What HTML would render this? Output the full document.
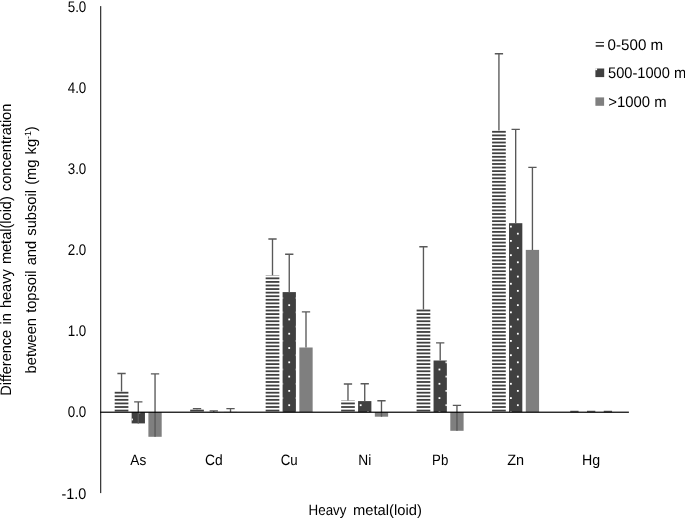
<!DOCTYPE html>
<html lang="en"><head><meta charset="utf-8"><title>Heavy metal(loid) chart</title>
<style>html,body{margin:0;padding:0;background:#fff;overflow:hidden}body{width:685px;height:518px}</style></head>
<body>
<svg width="685" height="518" viewBox="0 0 685 518" style="display:block;will-change:transform">
<rect width="685" height="518" fill="#fff"/>
<g shape-rendering="auto">
<rect x="114.69" y="391.81" width="13.70" height="1.80" fill="#404040"/>
<rect x="114.69" y="395.38" width="13.70" height="1.80" fill="#404040"/>
<rect x="114.69" y="398.95" width="13.70" height="1.80" fill="#404040"/>
<rect x="114.69" y="402.53" width="13.70" height="1.80" fill="#404040"/>
<rect x="114.69" y="406.10" width="13.70" height="1.80" fill="#404040"/>
<rect x="114.69" y="409.68" width="13.70" height="1.80" fill="#404040"/>
<rect x="131.64" y="412.15" width="13.30" height="11.25" fill="#404040"/>
<rect x="138.46" y="412.15" width="1.80" height="1.12" fill="#fff"/>
<rect x="131.64" y="418.57" width="1.28" height="1.80" fill="#fff"/>
<rect x="148.39" y="412.15" width="13.30" height="24.65" fill="#7f7f7f"/>
<rect x="190.17" y="409.68" width="13.70" height="1.80" fill="#404040"/>
<rect x="207.12" y="412.00" width="13.30" height="0.15" fill="#404040"/>
<rect x="209.91" y="412.00" width="1.80" height="0.15" fill="#fff"/>
<rect x="223.87" y="411.90" width="13.30" height="0.25" fill="#7f7f7f"/>
<rect x="265.65" y="275.30" width="13.70" height="0.36" fill="#404040"/>
<rect x="265.65" y="277.44" width="13.70" height="1.80" fill="#404040"/>
<rect x="265.65" y="281.01" width="13.70" height="1.80" fill="#404040"/>
<rect x="265.65" y="284.59" width="13.70" height="1.80" fill="#404040"/>
<rect x="265.65" y="288.16" width="13.70" height="1.80" fill="#404040"/>
<rect x="265.65" y="291.73" width="13.70" height="1.80" fill="#404040"/>
<rect x="265.65" y="295.31" width="13.70" height="1.80" fill="#404040"/>
<rect x="265.65" y="298.88" width="13.70" height="1.80" fill="#404040"/>
<rect x="265.65" y="302.46" width="13.70" height="1.80" fill="#404040"/>
<rect x="265.65" y="306.03" width="13.70" height="1.80" fill="#404040"/>
<rect x="265.65" y="309.60" width="13.70" height="1.80" fill="#404040"/>
<rect x="265.65" y="313.18" width="13.70" height="1.80" fill="#404040"/>
<rect x="265.65" y="316.75" width="13.70" height="1.80" fill="#404040"/>
<rect x="265.65" y="320.33" width="13.70" height="1.80" fill="#404040"/>
<rect x="265.65" y="323.90" width="13.70" height="1.80" fill="#404040"/>
<rect x="265.65" y="327.47" width="13.70" height="1.80" fill="#404040"/>
<rect x="265.65" y="331.05" width="13.70" height="1.80" fill="#404040"/>
<rect x="265.65" y="334.62" width="13.70" height="1.80" fill="#404040"/>
<rect x="265.65" y="338.20" width="13.70" height="1.80" fill="#404040"/>
<rect x="265.65" y="341.77" width="13.70" height="1.80" fill="#404040"/>
<rect x="265.65" y="345.34" width="13.70" height="1.80" fill="#404040"/>
<rect x="265.65" y="348.92" width="13.70" height="1.80" fill="#404040"/>
<rect x="265.65" y="352.49" width="13.70" height="1.80" fill="#404040"/>
<rect x="265.65" y="356.07" width="13.70" height="1.80" fill="#404040"/>
<rect x="265.65" y="359.64" width="13.70" height="1.80" fill="#404040"/>
<rect x="265.65" y="363.21" width="13.70" height="1.80" fill="#404040"/>
<rect x="265.65" y="366.79" width="13.70" height="1.80" fill="#404040"/>
<rect x="265.65" y="370.36" width="13.70" height="1.80" fill="#404040"/>
<rect x="265.65" y="373.94" width="13.70" height="1.80" fill="#404040"/>
<rect x="265.65" y="377.51" width="13.70" height="1.80" fill="#404040"/>
<rect x="265.65" y="381.08" width="13.70" height="1.80" fill="#404040"/>
<rect x="265.65" y="384.66" width="13.70" height="1.80" fill="#404040"/>
<rect x="265.65" y="388.23" width="13.70" height="1.80" fill="#404040"/>
<rect x="265.65" y="391.81" width="13.70" height="1.80" fill="#404040"/>
<rect x="265.65" y="395.38" width="13.70" height="1.80" fill="#404040"/>
<rect x="265.65" y="398.95" width="13.70" height="1.80" fill="#404040"/>
<rect x="265.65" y="402.53" width="13.70" height="1.80" fill="#404040"/>
<rect x="265.65" y="406.10" width="13.70" height="1.80" fill="#404040"/>
<rect x="265.65" y="409.68" width="13.70" height="1.80" fill="#404040"/>
<rect x="282.60" y="292.10" width="13.30" height="120.05" fill="#404040"/>
<rect x="282.60" y="297.15" width="0.56" height="1.80" fill="#fff"/>
<rect x="282.60" y="311.44" width="0.56" height="1.80" fill="#fff"/>
<rect x="282.60" y="325.73" width="0.56" height="1.80" fill="#fff"/>
<rect x="282.60" y="340.02" width="0.56" height="1.80" fill="#fff"/>
<rect x="282.60" y="354.31" width="0.56" height="1.80" fill="#fff"/>
<rect x="282.60" y="368.60" width="0.56" height="1.80" fill="#fff"/>
<rect x="282.60" y="382.89" width="0.56" height="1.80" fill="#fff"/>
<rect x="282.60" y="397.18" width="0.56" height="1.80" fill="#fff"/>
<rect x="282.60" y="411.47" width="0.56" height="0.68" fill="#fff"/>
<rect x="295.65" y="297.15" width="0.25" height="1.80" fill="#fff"/>
<rect x="295.65" y="311.44" width="0.25" height="1.80" fill="#fff"/>
<rect x="295.65" y="325.73" width="0.25" height="1.80" fill="#fff"/>
<rect x="295.65" y="340.02" width="0.25" height="1.80" fill="#fff"/>
<rect x="295.65" y="354.31" width="0.25" height="1.80" fill="#fff"/>
<rect x="295.65" y="368.60" width="0.25" height="1.80" fill="#fff"/>
<rect x="295.65" y="382.89" width="0.25" height="1.80" fill="#fff"/>
<rect x="295.65" y="397.18" width="0.25" height="1.80" fill="#fff"/>
<rect x="295.65" y="411.47" width="0.25" height="0.68" fill="#fff"/>
<rect x="288.31" y="304.25" width="1.80" height="1.80" fill="#fff"/>
<rect x="288.31" y="318.54" width="1.80" height="1.80" fill="#fff"/>
<rect x="288.31" y="332.83" width="1.80" height="1.80" fill="#fff"/>
<rect x="288.31" y="347.12" width="1.80" height="1.80" fill="#fff"/>
<rect x="288.31" y="361.41" width="1.80" height="1.80" fill="#fff"/>
<rect x="288.31" y="375.70" width="1.80" height="1.80" fill="#fff"/>
<rect x="288.31" y="389.99" width="1.80" height="1.80" fill="#fff"/>
<rect x="288.31" y="404.28" width="1.80" height="1.80" fill="#fff"/>
<rect x="299.35" y="347.50" width="13.30" height="64.65" fill="#7f7f7f"/>
<rect x="341.13" y="400.40" width="13.70" height="0.35" fill="#404040"/>
<rect x="341.13" y="402.53" width="13.70" height="1.80" fill="#404040"/>
<rect x="341.13" y="406.10" width="13.70" height="1.80" fill="#404040"/>
<rect x="341.13" y="409.68" width="13.70" height="1.80" fill="#404040"/>
<rect x="358.08" y="401.10" width="13.30" height="11.05" fill="#404040"/>
<rect x="367.10" y="411.47" width="1.80" height="0.68" fill="#fff"/>
<rect x="359.76" y="404.28" width="1.80" height="1.80" fill="#fff"/>
<rect x="374.83" y="412.15" width="13.30" height="4.55" fill="#7f7f7f"/>
<rect x="416.60" y="309.60" width="13.70" height="1.80" fill="#404040"/>
<rect x="416.60" y="313.18" width="13.70" height="1.80" fill="#404040"/>
<rect x="416.60" y="316.75" width="13.70" height="1.80" fill="#404040"/>
<rect x="416.60" y="320.33" width="13.70" height="1.80" fill="#404040"/>
<rect x="416.60" y="323.90" width="13.70" height="1.80" fill="#404040"/>
<rect x="416.60" y="327.47" width="13.70" height="1.80" fill="#404040"/>
<rect x="416.60" y="331.05" width="13.70" height="1.80" fill="#404040"/>
<rect x="416.60" y="334.62" width="13.70" height="1.80" fill="#404040"/>
<rect x="416.60" y="338.20" width="13.70" height="1.80" fill="#404040"/>
<rect x="416.60" y="341.77" width="13.70" height="1.80" fill="#404040"/>
<rect x="416.60" y="345.34" width="13.70" height="1.80" fill="#404040"/>
<rect x="416.60" y="348.92" width="13.70" height="1.80" fill="#404040"/>
<rect x="416.60" y="352.49" width="13.70" height="1.80" fill="#404040"/>
<rect x="416.60" y="356.07" width="13.70" height="1.80" fill="#404040"/>
<rect x="416.60" y="359.64" width="13.70" height="1.80" fill="#404040"/>
<rect x="416.60" y="363.21" width="13.70" height="1.80" fill="#404040"/>
<rect x="416.60" y="366.79" width="13.70" height="1.80" fill="#404040"/>
<rect x="416.60" y="370.36" width="13.70" height="1.80" fill="#404040"/>
<rect x="416.60" y="373.94" width="13.70" height="1.80" fill="#404040"/>
<rect x="416.60" y="377.51" width="13.70" height="1.80" fill="#404040"/>
<rect x="416.60" y="381.08" width="13.70" height="1.80" fill="#404040"/>
<rect x="416.60" y="384.66" width="13.70" height="1.80" fill="#404040"/>
<rect x="416.60" y="388.23" width="13.70" height="1.80" fill="#404040"/>
<rect x="416.60" y="391.81" width="13.70" height="1.80" fill="#404040"/>
<rect x="416.60" y="395.38" width="13.70" height="1.80" fill="#404040"/>
<rect x="416.60" y="398.95" width="13.70" height="1.80" fill="#404040"/>
<rect x="416.60" y="402.53" width="13.70" height="1.80" fill="#404040"/>
<rect x="416.60" y="406.10" width="13.70" height="1.80" fill="#404040"/>
<rect x="416.60" y="409.68" width="13.70" height="1.80" fill="#404040"/>
<rect x="433.55" y="360.50" width="13.30" height="51.65" fill="#404040"/>
<rect x="438.55" y="368.60" width="1.80" height="1.80" fill="#fff"/>
<rect x="438.55" y="382.89" width="1.80" height="1.80" fill="#fff"/>
<rect x="438.55" y="397.18" width="1.80" height="1.80" fill="#fff"/>
<rect x="438.55" y="411.47" width="1.80" height="0.68" fill="#fff"/>
<rect x="445.50" y="361.41" width="1.35" height="1.80" fill="#fff"/>
<rect x="445.50" y="375.70" width="1.35" height="1.80" fill="#fff"/>
<rect x="445.50" y="389.99" width="1.35" height="1.80" fill="#fff"/>
<rect x="445.50" y="404.28" width="1.35" height="1.80" fill="#fff"/>
<rect x="450.30" y="412.15" width="13.30" height="18.65" fill="#7f7f7f"/>
<rect x="492.08" y="130.90" width="13.70" height="1.80" fill="#404040"/>
<rect x="492.08" y="134.48" width="13.70" height="1.80" fill="#404040"/>
<rect x="492.08" y="138.05" width="13.70" height="1.80" fill="#404040"/>
<rect x="492.08" y="141.63" width="13.70" height="1.80" fill="#404040"/>
<rect x="492.08" y="145.20" width="13.70" height="1.80" fill="#404040"/>
<rect x="492.08" y="148.77" width="13.70" height="1.80" fill="#404040"/>
<rect x="492.08" y="152.35" width="13.70" height="1.80" fill="#404040"/>
<rect x="492.08" y="155.92" width="13.70" height="1.80" fill="#404040"/>
<rect x="492.08" y="159.50" width="13.70" height="1.80" fill="#404040"/>
<rect x="492.08" y="163.07" width="13.70" height="1.80" fill="#404040"/>
<rect x="492.08" y="166.64" width="13.70" height="1.80" fill="#404040"/>
<rect x="492.08" y="170.22" width="13.70" height="1.80" fill="#404040"/>
<rect x="492.08" y="173.79" width="13.70" height="1.80" fill="#404040"/>
<rect x="492.08" y="177.37" width="13.70" height="1.80" fill="#404040"/>
<rect x="492.08" y="180.94" width="13.70" height="1.80" fill="#404040"/>
<rect x="492.08" y="184.51" width="13.70" height="1.80" fill="#404040"/>
<rect x="492.08" y="188.09" width="13.70" height="1.80" fill="#404040"/>
<rect x="492.08" y="191.66" width="13.70" height="1.80" fill="#404040"/>
<rect x="492.08" y="195.24" width="13.70" height="1.80" fill="#404040"/>
<rect x="492.08" y="198.81" width="13.70" height="1.80" fill="#404040"/>
<rect x="492.08" y="202.38" width="13.70" height="1.80" fill="#404040"/>
<rect x="492.08" y="205.96" width="13.70" height="1.80" fill="#404040"/>
<rect x="492.08" y="209.53" width="13.70" height="1.80" fill="#404040"/>
<rect x="492.08" y="213.11" width="13.70" height="1.80" fill="#404040"/>
<rect x="492.08" y="216.68" width="13.70" height="1.80" fill="#404040"/>
<rect x="492.08" y="220.25" width="13.70" height="1.80" fill="#404040"/>
<rect x="492.08" y="223.83" width="13.70" height="1.80" fill="#404040"/>
<rect x="492.08" y="227.40" width="13.70" height="1.80" fill="#404040"/>
<rect x="492.08" y="230.98" width="13.70" height="1.80" fill="#404040"/>
<rect x="492.08" y="234.55" width="13.70" height="1.80" fill="#404040"/>
<rect x="492.08" y="238.12" width="13.70" height="1.80" fill="#404040"/>
<rect x="492.08" y="241.70" width="13.70" height="1.80" fill="#404040"/>
<rect x="492.08" y="245.27" width="13.70" height="1.80" fill="#404040"/>
<rect x="492.08" y="248.85" width="13.70" height="1.80" fill="#404040"/>
<rect x="492.08" y="252.42" width="13.70" height="1.80" fill="#404040"/>
<rect x="492.08" y="255.99" width="13.70" height="1.80" fill="#404040"/>
<rect x="492.08" y="259.57" width="13.70" height="1.80" fill="#404040"/>
<rect x="492.08" y="263.14" width="13.70" height="1.80" fill="#404040"/>
<rect x="492.08" y="266.72" width="13.70" height="1.80" fill="#404040"/>
<rect x="492.08" y="270.29" width="13.70" height="1.80" fill="#404040"/>
<rect x="492.08" y="273.86" width="13.70" height="1.80" fill="#404040"/>
<rect x="492.08" y="277.44" width="13.70" height="1.80" fill="#404040"/>
<rect x="492.08" y="281.01" width="13.70" height="1.80" fill="#404040"/>
<rect x="492.08" y="284.59" width="13.70" height="1.80" fill="#404040"/>
<rect x="492.08" y="288.16" width="13.70" height="1.80" fill="#404040"/>
<rect x="492.08" y="291.73" width="13.70" height="1.80" fill="#404040"/>
<rect x="492.08" y="295.31" width="13.70" height="1.80" fill="#404040"/>
<rect x="492.08" y="298.88" width="13.70" height="1.80" fill="#404040"/>
<rect x="492.08" y="302.46" width="13.70" height="1.80" fill="#404040"/>
<rect x="492.08" y="306.03" width="13.70" height="1.80" fill="#404040"/>
<rect x="492.08" y="309.60" width="13.70" height="1.80" fill="#404040"/>
<rect x="492.08" y="313.18" width="13.70" height="1.80" fill="#404040"/>
<rect x="492.08" y="316.75" width="13.70" height="1.80" fill="#404040"/>
<rect x="492.08" y="320.33" width="13.70" height="1.80" fill="#404040"/>
<rect x="492.08" y="323.90" width="13.70" height="1.80" fill="#404040"/>
<rect x="492.08" y="327.47" width="13.70" height="1.80" fill="#404040"/>
<rect x="492.08" y="331.05" width="13.70" height="1.80" fill="#404040"/>
<rect x="492.08" y="334.62" width="13.70" height="1.80" fill="#404040"/>
<rect x="492.08" y="338.20" width="13.70" height="1.80" fill="#404040"/>
<rect x="492.08" y="341.77" width="13.70" height="1.80" fill="#404040"/>
<rect x="492.08" y="345.34" width="13.70" height="1.80" fill="#404040"/>
<rect x="492.08" y="348.92" width="13.70" height="1.80" fill="#404040"/>
<rect x="492.08" y="352.49" width="13.70" height="1.80" fill="#404040"/>
<rect x="492.08" y="356.07" width="13.70" height="1.80" fill="#404040"/>
<rect x="492.08" y="359.64" width="13.70" height="1.80" fill="#404040"/>
<rect x="492.08" y="363.21" width="13.70" height="1.80" fill="#404040"/>
<rect x="492.08" y="366.79" width="13.70" height="1.80" fill="#404040"/>
<rect x="492.08" y="370.36" width="13.70" height="1.80" fill="#404040"/>
<rect x="492.08" y="373.94" width="13.70" height="1.80" fill="#404040"/>
<rect x="492.08" y="377.51" width="13.70" height="1.80" fill="#404040"/>
<rect x="492.08" y="381.08" width="13.70" height="1.80" fill="#404040"/>
<rect x="492.08" y="384.66" width="13.70" height="1.80" fill="#404040"/>
<rect x="492.08" y="388.23" width="13.70" height="1.80" fill="#404040"/>
<rect x="492.08" y="391.81" width="13.70" height="1.80" fill="#404040"/>
<rect x="492.08" y="395.38" width="13.70" height="1.80" fill="#404040"/>
<rect x="492.08" y="398.95" width="13.70" height="1.80" fill="#404040"/>
<rect x="492.08" y="402.53" width="13.70" height="1.80" fill="#404040"/>
<rect x="492.08" y="406.10" width="13.70" height="1.80" fill="#404040"/>
<rect x="492.08" y="409.68" width="13.70" height="1.80" fill="#404040"/>
<rect x="509.03" y="223.20" width="13.30" height="188.95" fill="#404040"/>
<rect x="510.00" y="225.70" width="1.80" height="1.80" fill="#fff"/>
<rect x="510.00" y="239.99" width="1.80" height="1.80" fill="#fff"/>
<rect x="510.00" y="254.28" width="1.80" height="1.80" fill="#fff"/>
<rect x="510.00" y="268.57" width="1.80" height="1.80" fill="#fff"/>
<rect x="510.00" y="282.86" width="1.80" height="1.80" fill="#fff"/>
<rect x="510.00" y="297.15" width="1.80" height="1.80" fill="#fff"/>
<rect x="510.00" y="311.44" width="1.80" height="1.80" fill="#fff"/>
<rect x="510.00" y="325.73" width="1.80" height="1.80" fill="#fff"/>
<rect x="510.00" y="340.02" width="1.80" height="1.80" fill="#fff"/>
<rect x="510.00" y="354.31" width="1.80" height="1.80" fill="#fff"/>
<rect x="510.00" y="368.60" width="1.80" height="1.80" fill="#fff"/>
<rect x="510.00" y="382.89" width="1.80" height="1.80" fill="#fff"/>
<rect x="510.00" y="397.18" width="1.80" height="1.80" fill="#fff"/>
<rect x="510.00" y="411.47" width="1.80" height="0.68" fill="#fff"/>
<rect x="516.95" y="232.80" width="1.80" height="1.80" fill="#fff"/>
<rect x="516.95" y="247.09" width="1.80" height="1.80" fill="#fff"/>
<rect x="516.95" y="261.38" width="1.80" height="1.80" fill="#fff"/>
<rect x="516.95" y="275.67" width="1.80" height="1.80" fill="#fff"/>
<rect x="516.95" y="289.96" width="1.80" height="1.80" fill="#fff"/>
<rect x="516.95" y="304.25" width="1.80" height="1.80" fill="#fff"/>
<rect x="516.95" y="318.54" width="1.80" height="1.80" fill="#fff"/>
<rect x="516.95" y="332.83" width="1.80" height="1.80" fill="#fff"/>
<rect x="516.95" y="347.12" width="1.80" height="1.80" fill="#fff"/>
<rect x="516.95" y="361.41" width="1.80" height="1.80" fill="#fff"/>
<rect x="516.95" y="375.70" width="1.80" height="1.80" fill="#fff"/>
<rect x="516.95" y="389.99" width="1.80" height="1.80" fill="#fff"/>
<rect x="516.95" y="404.28" width="1.80" height="1.80" fill="#fff"/>
<rect x="525.78" y="249.90" width="13.30" height="162.25" fill="#7f7f7f"/>
<rect x="584.51" y="412.00" width="13.30" height="0.15" fill="#404040"/>
<rect x="595.74" y="412.00" width="1.80" height="0.15" fill="#fff"/>
<rect x="601.26" y="412.00" width="13.30" height="0.15" fill="#7f7f7f"/>
<path d="M121.54 391.60V373.50M117.39 373.50H125.69" stroke="#595959" stroke-width="1.35" fill="none"/>
<path d="M138.29 423.40V401.80M134.14 401.80H142.44" stroke="#595959" stroke-width="1.35" fill="none"/>
<path d="M155.04 436.80V373.80M150.89 373.80H159.19" stroke="#595959" stroke-width="1.35" fill="none"/>
<path d="M197.02 409.60V408.60M192.87 408.60H201.17" stroke="#595959" stroke-width="1.35" fill="none"/>
<path d="M213.77 412.00V410.80M209.62 410.80H217.92" stroke="#595959" stroke-width="1.35" fill="none"/>
<path d="M230.52 411.90V408.60M226.37 408.60H234.67" stroke="#595959" stroke-width="1.35" fill="none"/>
<path d="M272.50 275.30V239.00M268.35 239.00H276.65" stroke="#595959" stroke-width="1.35" fill="none"/>
<path d="M289.25 292.10V254.20M285.10 254.20H293.40" stroke="#595959" stroke-width="1.35" fill="none"/>
<path d="M306.00 347.50V311.80M301.85 311.80H310.15" stroke="#595959" stroke-width="1.35" fill="none"/>
<path d="M347.98 400.40V384.00M343.83 384.00H352.12" stroke="#595959" stroke-width="1.35" fill="none"/>
<path d="M364.73 401.10V383.70M360.58 383.70H368.88" stroke="#595959" stroke-width="1.35" fill="none"/>
<path d="M381.48 416.70V400.70M377.33 400.70H385.62" stroke="#595959" stroke-width="1.35" fill="none"/>
<path d="M423.45 309.50V246.70M419.30 246.70H427.60" stroke="#595959" stroke-width="1.35" fill="none"/>
<path d="M440.20 360.50V342.90M436.05 342.90H444.35" stroke="#595959" stroke-width="1.35" fill="none"/>
<path d="M456.95 430.80V405.30M452.80 405.30H461.10" stroke="#595959" stroke-width="1.35" fill="none"/>
<path d="M498.93 130.40V53.70M494.78 53.70H503.08" stroke="#595959" stroke-width="1.35" fill="none"/>
<path d="M515.68 223.20V129.30M511.53 129.30H519.83" stroke="#595959" stroke-width="1.35" fill="none"/>
<path d="M532.43 249.90V167.40M528.28 167.40H536.58" stroke="#595959" stroke-width="1.35" fill="none"/>
<path d="M574.41 412.00V411.50M570.26 411.50H578.56" stroke="#595959" stroke-width="1.35" fill="none"/>
<path d="M591.16 412.00V411.40M587.01 411.40H595.31" stroke="#595959" stroke-width="1.35" fill="none"/>
<path d="M607.91 412.00V411.50M603.76 411.50H612.06" stroke="#595959" stroke-width="1.35" fill="none"/>
<rect x="100.1" y="6.10" width="1.15" height="487.00" fill="#262626"/>
<rect x="100.1" y="411.62" width="528.80" height="1.2" fill="#000"/>
</g>
<g font-family="Liberation Sans, Arial, sans-serif" text-rendering="geometricPrecision">
<text x="61.40" y="498.52" font-size="15.4" text-anchor="start" fill="#000" textLength="24.9" lengthAdjust="spacingAndGlyphs" >-1.0</text>
<text x="67.70" y="417.35" font-size="15.4" text-anchor="start" fill="#000" textLength="18.6" lengthAdjust="spacingAndGlyphs" >0.0</text>
<text x="67.70" y="336.18" font-size="15.4" text-anchor="start" fill="#000" textLength="18.6" lengthAdjust="spacingAndGlyphs" >1.0</text>
<text x="67.70" y="255.01" font-size="15.4" text-anchor="start" fill="#000" textLength="18.6" lengthAdjust="spacingAndGlyphs" >2.0</text>
<text x="67.70" y="173.84" font-size="15.4" text-anchor="start" fill="#000" textLength="18.6" lengthAdjust="spacingAndGlyphs" >3.0</text>
<text x="67.70" y="92.67" font-size="15.4" text-anchor="start" fill="#000" textLength="18.6" lengthAdjust="spacingAndGlyphs" >4.0</text>
<text x="67.70" y="11.50" font-size="15.4" text-anchor="start" fill="#000" textLength="18.6" lengthAdjust="spacingAndGlyphs" >5.0</text>
<text x="130.34" y="464.8" font-size="15" text-anchor="start" fill="#000" textLength="15.9" lengthAdjust="spacingAndGlyphs" >As</text>
<text x="204.92" y="464.8" font-size="15" text-anchor="start" fill="#000" textLength="17.7" lengthAdjust="spacingAndGlyphs" >Cd</text>
<text x="280.75" y="464.8" font-size="15" text-anchor="start" fill="#000" textLength="17.0" lengthAdjust="spacingAndGlyphs" >Cu</text>
<text x="358.23" y="464.8" font-size="15" text-anchor="start" fill="#000" textLength="13.0" lengthAdjust="spacingAndGlyphs" >Ni</text>
<text x="432.10" y="464.8" font-size="15" text-anchor="start" fill="#000" textLength="16.2" lengthAdjust="spacingAndGlyphs" >Pb</text>
<text x="507.23" y="464.8" font-size="15" text-anchor="start" fill="#000" textLength="16.9" lengthAdjust="spacingAndGlyphs" >Zn</text>
<text x="582.06" y="464.8" font-size="15" text-anchor="start" fill="#000" textLength="18.2" lengthAdjust="spacingAndGlyphs" >Hg</text>
<text y="514.6" font-size="14.8" fill="#000"><tspan x="308.6" textLength="41.6" lengthAdjust="spacingAndGlyphs">Heavy </tspan><tspan x="353.0" textLength="68.8" lengthAdjust="spacingAndGlyphs">metal(loid)</tspan></text>
<text x="607.6" y="49.5" font-size="15.4" text-anchor="start" fill="#000" textLength="55.6" lengthAdjust="spacingAndGlyphs" >0-500 m</text>
<text x="608.0" y="77.6" font-size="15.4" text-anchor="start" fill="#000" textLength="78.2" lengthAdjust="spacingAndGlyphs" >500-1000 m</text>
<text x="608.2" y="106.5" font-size="15.4" text-anchor="start" fill="#000" textLength="58.4" lengthAdjust="spacingAndGlyphs" >&gt;1000 m</text>
<text transform="translate(11.35,395.8) rotate(-90)" font-size="15.1" word-spacing="1.2" fill="#000" textLength="292.1" lengthAdjust="spacingAndGlyphs">Difference in heavy metal(loid) concentration</text>
<text transform="translate(36.1,373.4) rotate(-90)" font-size="15.1" word-spacing="1.2" fill="#000" textLength="247.1" lengthAdjust="spacingAndGlyphs">between topsoil and subsoil (mg kg<tspan font-size="9" dy="-5">-1</tspan><tspan dy="5">)</tspan></text>
</g>
<rect x="595.7" y="41.95" width="8.3" height="1.1" fill="#303030"/>
<rect x="595.7" y="45.15" width="8.3" height="1.6" fill="#303030"/>
<rect x="595.4" y="68.5" width="8.8" height="8.6" fill="#404040"/>
<rect x="595.2" y="68.3" width="1.9" height="1.9" fill="#fff"/>
<rect x="595.4" y="97.4" width="8.7" height="8.4" fill="#7f7f7f"/>
</svg>
</body></html>
